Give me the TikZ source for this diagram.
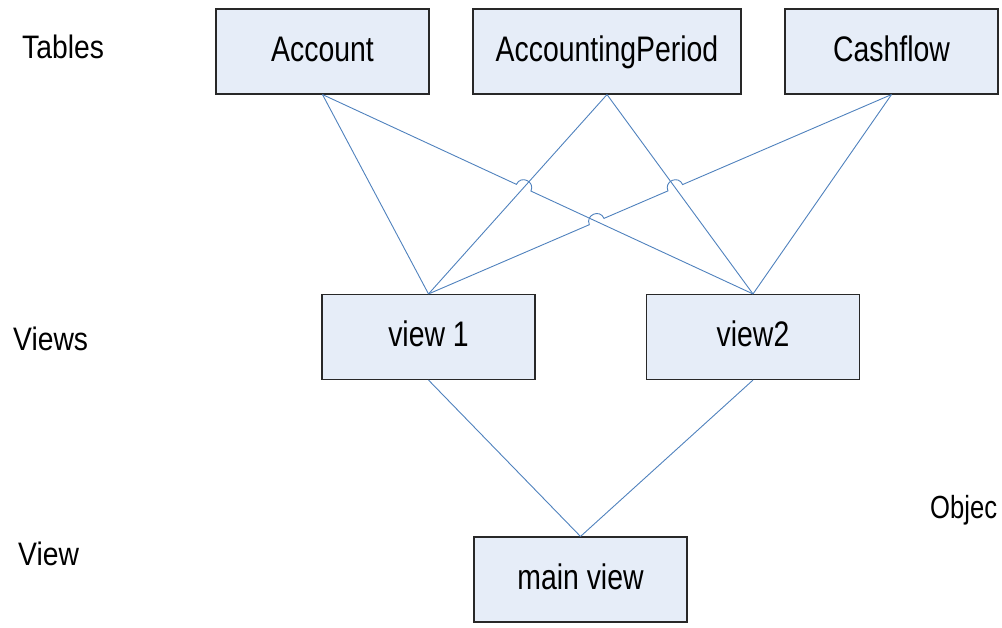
\documentclass[tikz,border=0pt]{standalone}
\usepackage{fontspec}
\setmainfont{Liberation Sans}[FakeStretch=0.8]
\newfontfamily\tierfont{Liberation Sans}[FakeStretch=0.87]
\usetikzlibrary{calc}
\definecolor{boxfill}{RGB}{230,237,248}
\definecolor{boxline}{RGB}{40,40,40}
\definecolor{linkblue}{RGB}{79,129,189}
\tikzset{
  tablebox/.style={draw=boxline, line width=1.1pt, fill=boxfill,
    minimum width=213pt, minimum height=85pt, inner sep=0pt,
    font=\fontsize{35.5}{40}\selectfont, text height=21pt, text depth=2pt},
  tierlabel/.style={anchor=base west, inner sep=0pt,
    font=\tierfont\fontsize{32.5}{38}\selectfont},
  edgelabel/.style={anchor=base west, inner sep=0pt,
    font=\fontsize{32}{38}\selectfont}
  ,
  link/.style={draw=linkblue, line width=0.9pt},
  hop/.style={bend left=90, looseness=1.7}
}
\begin{document}
\begin{tikzpicture}[x=1pt, y=-1pt]
\useasboundingbox (0,0) rectangle (1002,627);

% tier labels
\node[tierlabel] (lblTables) at (22,58) {Tables};
\node[tierlabel] (lblViews) at (13,350) {Views};
\node[tierlabel] (lblView) at (18,565) {View};
\node[edgelabel] (lblObj) at (930,518) {Objec};

% tables
\node[tablebox] (acc) at (322.5,51.5) {Account};
\node[tablebox, minimum width=268pt] (ap) at (607,51.5) {AccountingPeriod};
\node[tablebox] (cf) at (891.5,51.5) {Cashflow};

% views
\node[tablebox] (v1) at (428.5,337) {view 1};
\node[tablebox] (v2) at (753,337) {view2};

% main view
\node[tablebox] (mv) at (580.5,579.5) {main view};

% connection points
\coordinate (accB) at (acc.south);
\coordinate (apB) at (ap.south);
\coordinate (cfB) at (cf.south);
\coordinate (v1T) at (v1.north);
\coordinate (v2T) at (v2.north);

% crossings that get a hop
\coordinate (x1) at (intersection of accB--v2T and apB--v1T);
\coordinate (x2) at (intersection of cfB--v1T and accB--v2T);
\coordinate (x3) at (intersection of cfB--v1T and apB--v2T);

% links from the tables to the views
\draw[link] (accB) -- (v1T);
\draw[link] (apB) -- (v1T);
\draw[link] (apB) -- (v2T);
\draw[link] (cfB) -- (v2T);
\draw[link] (accB) -- ($(x1)!8pt!(accB)$) to[hop] ($(x1)!8pt!(v2T)$) -- (v2T);
\draw[link] (v1T) -- ($(x2)!8pt!(v1T)$) to[hop] ($(x2)!8pt!(cfB)$)
  -- ($(x3)!8pt!(v1T)$) to[hop] ($(x3)!8pt!(cfB)$) -- (cfB);

% links from the views to the main view
\draw[link] (v1.south) -- (mv.north);
\draw[link] (v2.south) -- (mv.north);
\end{tikzpicture}
\end{document}
